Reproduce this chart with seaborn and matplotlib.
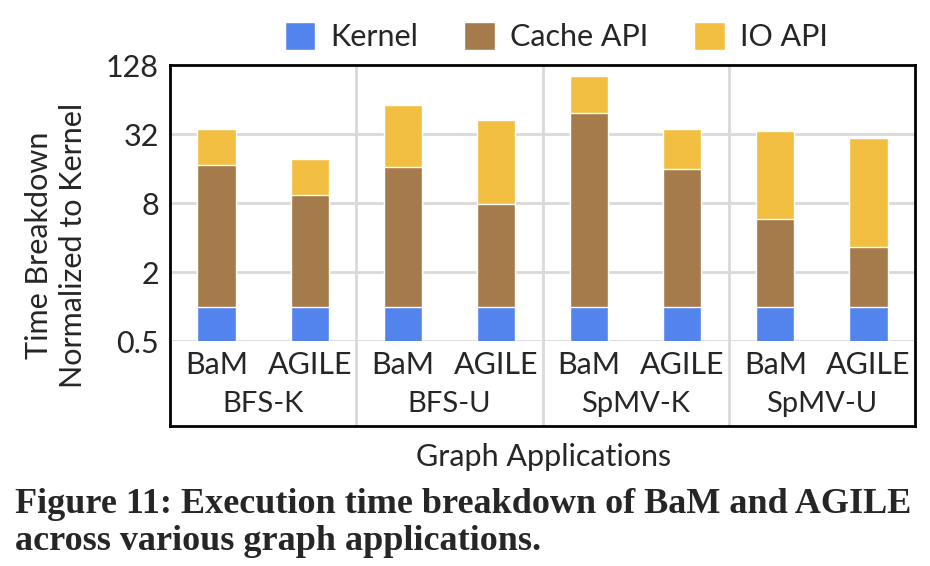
import pandas as pd
import matplotlib
matplotlib.use("Agg")
import matplotlib.pyplot as plt
import seaborn as sns
from matplotlib.patches import Patch
from matplotlib.ticker import FixedLocator, FixedFormatter

# values (time normalized to kernel)
apps = ['BFS-K', 'BFS-U', 'SpMV-K', 'SpMV-U']
systems = ['BaM', 'AGILE']
kernel = [1, 1, 1, 1, 1, 1, 1, 1]
cache_api = [16.2, 8.4, 15.5, 6.8, 48.1, 14.9, 4.8, 2.3]
io_api = [18.0, 10.0, 40.5, 34.9, 52.9, 19.3, 28.0, 26.0]
y_ticks = [0.5, 2, 8, 32, 128]
y_tick_labels = ['0.5', '2', '8', '32', '128']

colors = {'Kernel': '#5383EC', 'Cache API': '#A67B4B', 'IO API': '#F2BF42'}

sns.set_style("white")
plt.rcParams['font.family'] = ['Lato', 'DejaVu Sans']

# cumulative tops for stacking
rows = []
i = 0
for app in apps:
    for sysname in systems:
        k = kernel[i]
        c = k + cache_api[i]
        t = c + io_api[i]
        rows.append({'slot': f'{app}|{sysname}', 'Kernel': k, 'Cache API': c, 'IO API': t})
        i += 1
df = pd.DataFrame(rows)
order = list(df['slot'])

fig = plt.figure(figsize=(9.3, 5.66), dpi=100)
ax = fig.add_axes([0.1828, 0.3975, 0.8011, 0.4876])
lab = fig.add_axes([0.1828, 0.2473, 0.8011, 0.1502])

# draw tallest layer first so the lower segments sit on top
for layer in ['IO API', 'Cache API', 'Kernel']:
    sns.barplot(data=df, x='slot', y=layer, order=order, color=colors[layer],
                saturation=1, width=0.41, errorbar=None, ax=ax, zorder=3)

ax.set_yscale('log', base=2)
ax.set_ylim(0.5, 128)
ax.set_xlim(-0.5, 7.5)
ax.yaxis.set_major_locator(FixedLocator(y_ticks))
ax.yaxis.set_major_formatter(FixedFormatter(y_tick_labels))
ax.yaxis.set_minor_locator(FixedLocator([]))
ax.tick_params(axis='y', labelsize=22, length=0, pad=8)
ax.set_xticks([])
ax.set_xlabel('')
ax.set_ylabel('')
for yv in [2, 8, 32]:
    ax.axhline(yv, color='#d9d9d9', lw=2, zorder=1)
for xv in [1.5, 3.5, 5.5]:
    ax.axvline(xv, color='#d9d9d9', lw=2, zorder=1)
for side in ['top', 'left', 'right']:
    ax.spines[side].set_color('black')
    ax.spines[side].set_linewidth(2)
ax.spines['bottom'].set_color('#d9d9d9')
ax.spines['bottom'].set_linewidth(2)

# category box below the plot
lab.set_xlim(-0.5, 7.5)
lab.set_ylim(0, 1)
lab.set_xticks([])
lab.set_yticks([])
for xv in [1.5, 3.5, 5.5]:
    lab.axvline(xv, color='#d9d9d9', lw=2)
for side in ['bottom', 'left', 'right']:
    lab.spines[side].set_color('black')
    lab.spines[side].set_linewidth(2)
lab.spines['top'].set_visible(False)
for j, app in enumerate(apps):
    for s, sysname in enumerate(systems):
        lab.text(2 * j + s, 0.72, sysname, ha='center', va='center', fontsize=22)
    lab.text(2 * j + 0.5, 0.26, app, ha='center', va='center', fontsize=21)

fig.text(0.584, 0.192, 'Graph Applications', ha='center', va='center', fontsize=22)
fig.text(0.060, 0.567, 'Time Breakdown\nNormalized to Kernel', ha='center', va='center',
         rotation=90, fontsize=22, linespacing=1.25)

handles = [Patch(facecolor=colors[n], label=n) for n in ['Kernel', 'Cache API', 'IO API']]
fig.legend(handles=handles, loc='center', bbox_to_anchor=(0.598, 0.935), ncol=3,
           frameon=False, fontsize=22, handlelength=1.0, handleheight=1.0,
           columnspacing=1.5, handletextpad=0.5)

cap_font = ['Liberation Serif', 'DejaVu Serif']
fig.text(0.016, 0.108, 'Figure 11: Execution time breakdown of BaM and AGILE',
         ha='left', va='center', fontsize=26, fontweight='bold', family=cap_font)
fig.text(0.016, 0.043, 'across various graph applications.',
         ha='left', va='center', fontsize=26, fontweight='bold', family=cap_font)

fig.savefig('out.png', dpi=100)
